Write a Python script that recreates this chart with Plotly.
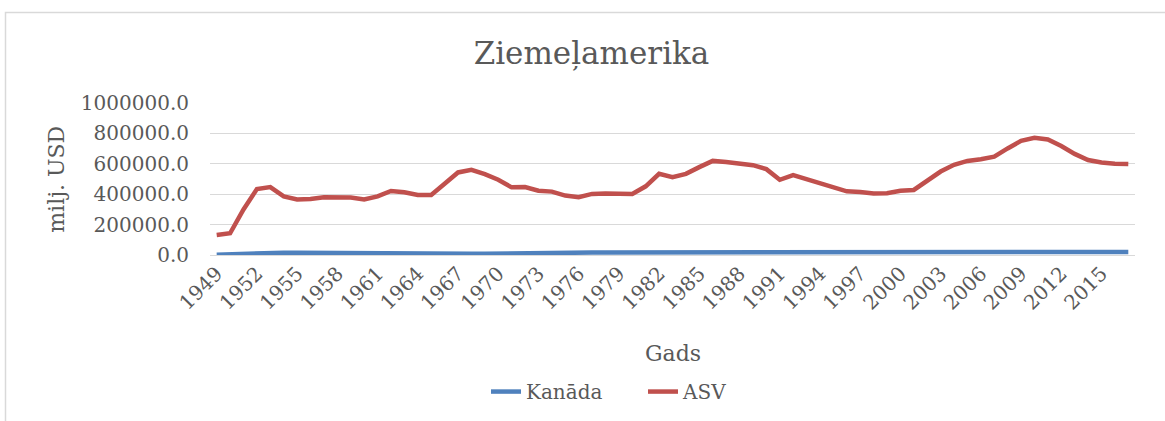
import plotly.graph_objects as go

years = list(range(1949, 2018))

asv = [132000, 143000, 300000, 434000, 447000, 386000, 365000, 368000, 380000, 376000,
       378000, 365000, 386000, 421000, 413000, 395000, 395000, 469000, 543000, 560000,
       532000, 495000, 445000, 447000, 423000, 417000, 391000, 380000, 402000, 404000,
       406000, 402000, 452000, 534000, 512000, 534000, 578000, 619000, 612000, 599000,
       591000, 565000, 495000, 526000, 499000, 467000, 445000, 419000, 415000, 404000,
       406000, 423000, 428000, 489000, 549000, 593000, 619000, 630000, 647000, 701000,
       751000, 771000, 760000, 717000, 665000, 625000, 608000, 601000, 599000]

kanada = [2000, 5000, 10000, 14000, 16000, 15000, 15000, 14000, 13000, 12000,
          11000, 10000, 10000, 10000, 9000, 9000, 9000, 9000, 9000, 9000,
          9000, 9000, 9000, 9000, 10000, 11000, 12000, 14000, 16000, 17000,
          17000, 17000, 17000, 18000, 18000, 19000, 20000, 20000, 20000, 20000,
          19000, 18000, 16000, 15000, 14000, 14000, 14000, 13000, 13000, 13000,
          13000, 13000, 14000, 15000, 16000, 17000, 17000, 18000, 18000, 19000,
          20000, 19000, 19000, 18000, 17000, 17000, 18000, 19000, 20000]

xticks = [str(y) for y in years[::3]]
cats = [str(y) for y in years]

font_family = "DejaVu Serif"
txt = "#595959"
grid = "#D9D9D9"

fig = go.Figure()
fig.add_trace(go.Scatter(x=cats, y=kanada, mode="lines", name="Kanāda",
                         line=dict(color="#4F81BD", width=4.5)))
fig.add_trace(go.Scatter(x=cats, y=asv, mode="lines", name="ASV",
                         line=dict(color="#C0504D", width=4.5)))

W, H = 1165, 421
L, R, T, B = 210, 1135, 102.5, 256
pw, ph = R - L, B - T

def px(x):
    return (x - L) / pw

def py(y):
    return (B - y) / ph

fig.update_layout(
    width=W, height=H,
    margin=dict(l=L, r=W - R, t=T, b=H - B, pad=0),
    paper_bgcolor="white", plot_bgcolor="white",
    font=dict(family=font_family, color=txt, size=20),
    title=dict(text="Ziemeļamerika", font=dict(size=31, color=txt, family=font_family),
               xref="paper", x=px(591.5), xanchor="center",
               yref="container", y=1 - 53 / H, yanchor="middle"),
    showlegend=True,
    legend=dict(orientation="h", x=px(643), xanchor="center", y=py(392), yanchor="middle",
                font=dict(size=20, color=txt, family=font_family),
                bgcolor="rgba(0,0,0,0)", entrywidth=112, tracegroupgap=0),
    xaxis=dict(type="category", categoryorder="array", categoryarray=cats,
               range=[-0.5, len(cats) - 0.5],
               tickmode="array", tickvals=xticks, ticktext=xticks,
               tickangle=-45, tickfont=dict(size=20, color=txt),
               showgrid=False, showline=False, zeroline=False, ticks="",
               ticklabelstandoff=2, automargin=False),
    yaxis=dict(range=[0, 1000000], dtick=200000, tick0=0, tickformat=".1f",
               showgrid=True, gridcolor=grid, gridwidth=1.3,
               zeroline=True, zerolinecolor=grid, zerolinewidth=1.3,
               showline=False, ticks="", ticklabelstandoff=20,
               tickfont=dict(size=20, color=txt), automargin=False),
    annotations=[
        dict(text="milj. USD", xref="paper", yref="paper", x=px(57), y=py(180),
             textangle=-90, showarrow=False, xanchor="center", yanchor="middle",
             font=dict(size=22, color=txt, family=font_family)),
        dict(text="Gads", xref="paper", yref="paper", x=px(673), y=py(355),
             showarrow=False, xanchor="center", yanchor="middle",
             font=dict(size=22, color=txt, family=font_family)),
    ],
    shapes=[
        dict(type="rect", xref="paper", yref="paper", x0=px(5.5), x1=px(1200),
             y0=py(460), y1=py(11), line=dict(color=grid, width=1.5),
             fillcolor="rgba(0,0,0,0)", layer="below"),
    ],
)

fig.write_html("out.html", config={"displayModeBar": False},
               post_script="document.body.style.margin='0';document.body.style.padding='0';")
